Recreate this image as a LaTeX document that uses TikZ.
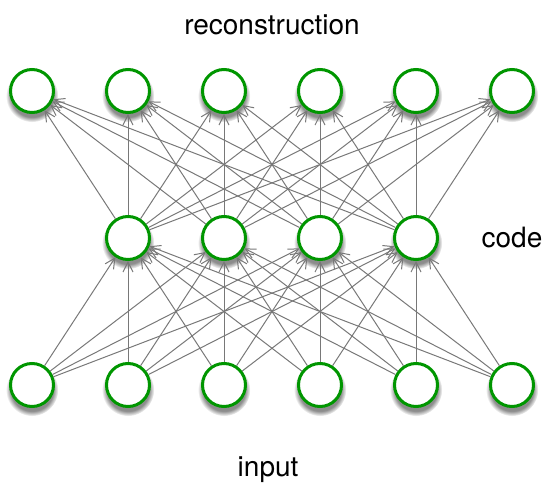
\documentclass[tikz,border=0pt]{standalone}
\usepackage{fontspec}
\setmainfont{TeX Gyre Heros}
\usetikzlibrary{matrix}
\usetikzlibrary{arrows.meta}
\usetikzlibrary{shadows,fadings}
\definecolor{unitgreen}{RGB}{0,150,0}
\definecolor{wiregray}{RGB}{120,120,120}
\tikzset{
  neuron/.style={circle, draw=unitgreen, line width=3pt, fill=white, minimum size=43pt, inner sep=0pt,
    circular drop shadow={shadow xshift=0pt, shadow yshift=-4pt, shadow scale=1.22, fill=black, opacity=0.45,
      path fading=circle with fuzzy edge 20 percent}},
  wire/.style={draw=wiregray, line width=1pt, -{Straight Barb[length=10pt, width=10pt]}},
  layername/.style={font=\fontsize{28pt}{34pt}\selectfont}
}

\begin{document}
\begin{tikzpicture}[x=1pt,y=1pt]
    \useasboundingbox (0,0) rectangle (555,-494);
    \matrix[matrix of nodes, column sep=50pt, row sep=101pt,
    nodes={neuron}] (m) at (272,-238) {
      |(r_1)| & |(r_2)| & |(r_3)| & |(r_4)| & |(r_5)| & |(r_6)| \\
      %
      & |(c_1)| & |(c_2)| & |(c_3)| & |(c_4)| & \\
      %
      |(i_1)| & |(i_2)| & |(i_3)| & |(i_4)| & |(i_5)| & |(i_6)| \\
    };
    %
    \node[layername] (rec) at (272,-25) {reconstruction};
    \node[layername] (code) at (512,-238) {code};
    \node[layername] (input) at (268,-470) {input};
    %
    \begin{scope}
        \draw[wire] (i_1) edge (c_1) edge (c_2) edge (c_3) edge (c_4);
        \draw[wire] (i_2) edge (c_1) edge (c_2) edge (c_3) edge (c_4);
        \draw[wire] (i_3) edge (c_1) edge (c_2) edge (c_3) edge (c_4);
        \draw[wire] (i_4) edge (c_1) edge (c_2) edge (c_3) edge (c_4);
        \draw[wire] (i_5) edge (c_1) edge (c_2) edge (c_3) edge (c_4);
        \draw[wire] (i_6) edge (c_1) edge (c_2) edge (c_3) edge (c_4);
        %
        \draw[wire] (c_1) edge (r_1) edge (r_2) edge (r_3) edge (r_4) edge (r_5) edge (r_6);
        \draw[wire] (c_2) edge (r_1) edge (r_2) edge (r_3) edge (r_4) edge (r_5) edge (r_6);
        \draw[wire] (c_3) edge (r_1) edge (r_2) edge (r_3) edge (r_4) edge (r_5) edge (r_6);
        \draw[wire] (c_4) edge (r_1) edge (r_2) edge (r_3) edge (r_4) edge (r_5) edge (r_6);
    \end{scope}
\end{tikzpicture}
\end{document}
